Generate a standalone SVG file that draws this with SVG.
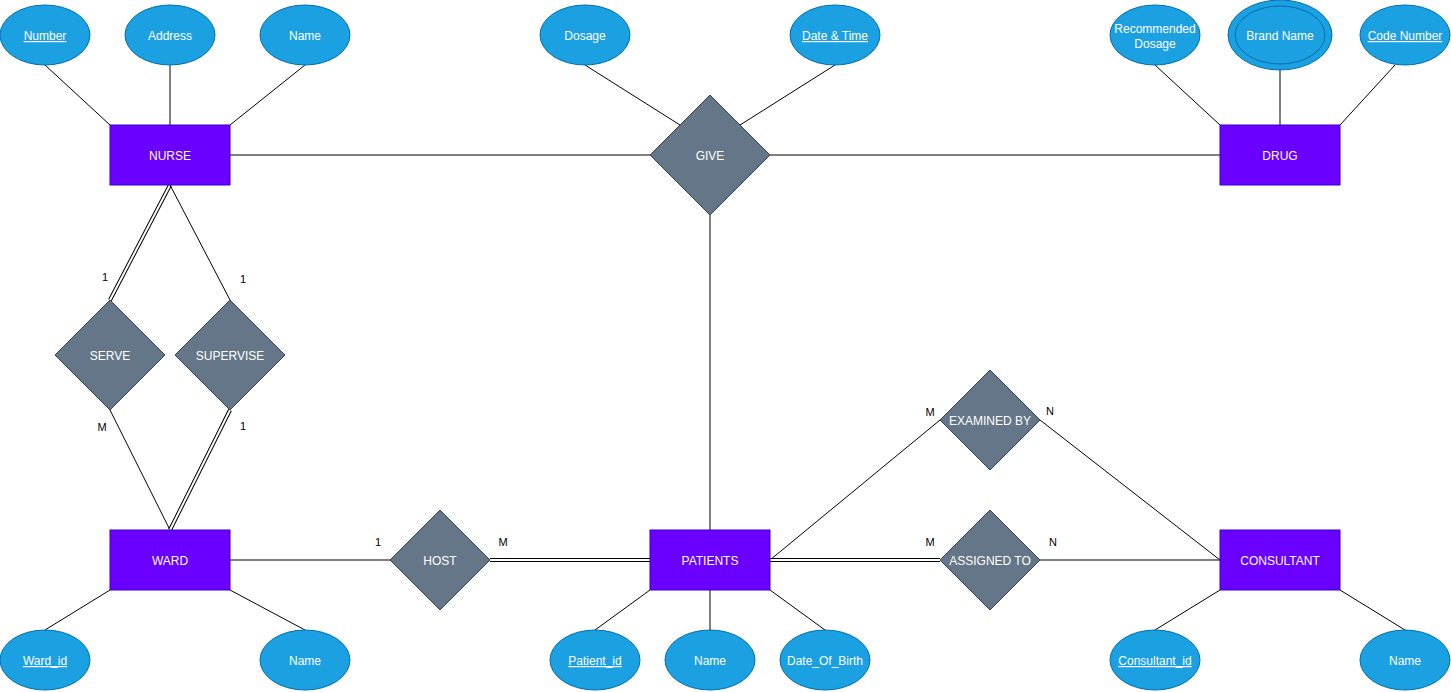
<svg xmlns="http://www.w3.org/2000/svg" width="1451" height="692" viewBox="0 0 1451 692">
<style>
.attr{fill:#1ba1e2;stroke:#006eaf;stroke-width:1}
.ent{fill:#6a00ff;stroke:#3700cc;stroke-width:1}
.rel{fill:#647687;stroke:#314354;stroke-width:1}
.t{font-family:"Liberation Sans",Arial,sans-serif;font-size:12px;fill:#ffffff;text-anchor:middle}
.u{text-decoration:underline}
.c{stroke:#000000;stroke-width:1;fill:none}
.d1{stroke:#000000;stroke-width:4;fill:none}
.d2{stroke:#ffffff;stroke-width:2;fill:none}
.lbl{font-family:"Liberation Sans",Arial,sans-serif;font-size:11px;fill:#000000;text-anchor:middle}
</style>
<rect width="1451" height="692" fill="#ffffff"/>
<g id="connectors">
<line class="c" x1="45" y1="65" x2="110" y2="125"/>
<line class="c" x1="170" y1="65" x2="170" y2="125"/>
<line class="c" x1="305" y1="65" x2="230" y2="125"/>
<line class="c" x1="230" y1="155" x2="650" y2="155"/>
<line class="c" x1="770" y1="155" x2="1220" y2="155"/>
<line class="c" x1="585" y1="65" x2="680" y2="125"/>
<line class="c" x1="835" y1="65" x2="740" y2="125"/>
<line class="c" x1="1155" y1="65" x2="1220" y2="125"/>
<line class="c" x1="1280" y1="70" x2="1280" y2="125"/>
<line class="c" x1="1395" y1="65" x2="1340" y2="125"/>
<line class="c" x1="710" y1="215" x2="710" y2="530"/>
<line class="d1" x1="170" y1="185" x2="110" y2="300"/>
<line class="d2" x1="170" y1="185" x2="110" y2="300"/>
<line class="c" x1="170" y1="185" x2="230" y2="300"/>
<line class="c" x1="110" y1="410" x2="170" y2="530"/>
<line class="d1" x1="230" y1="410" x2="170" y2="530"/>
<line class="d2" x1="230" y1="410" x2="170" y2="530"/>
<line class="c" x1="230" y1="560" x2="390" y2="560"/>
<line class="d1" x1="490" y1="560" x2="650" y2="560"/>
<line class="d2" x1="490" y1="560" x2="650" y2="560"/>
<line class="c" x1="770" y1="560" x2="940" y2="420"/>
<line class="d1" x1="770" y1="560" x2="940" y2="560"/>
<line class="d2" x1="770" y1="560" x2="940" y2="560"/>
<line class="c" x1="1040" y1="420" x2="1220" y2="560"/>
<line class="c" x1="1040" y1="560" x2="1220" y2="560"/>
<line class="c" x1="110" y1="590" x2="45" y2="630"/>
<line class="c" x1="230" y1="590" x2="305" y2="630"/>
<line class="c" x1="650" y1="590" x2="595" y2="630"/>
<line class="c" x1="710" y1="590" x2="710" y2="630"/>
<line class="c" x1="770" y1="590" x2="825" y2="630"/>
<line class="c" x1="1220" y1="590" x2="1155" y2="630"/>
<line class="c" x1="1340" y1="590" x2="1405" y2="630"/>
<text class="lbl" x="105" y="281">1</text>
<text class="lbl" x="243" y="283">1</text>
<text class="lbl" x="102" y="431">M</text>
<text class="lbl" x="243" y="430">1</text>
<text class="lbl" x="378" y="546">1</text>
<text class="lbl" x="503" y="546">M</text>
<text class="lbl" x="930" y="416">M</text>
<text class="lbl" x="1050" y="415">N</text>
<text class="lbl" x="930" y="546">M</text>
<text class="lbl" x="1053" y="546">N</text>
</g>
<g id="nurse"><rect class="ent" x="110" y="125" width="120" height="60"/><text class="t" x="170" y="160">NURSE</text></g>
<g id="drug"><rect class="ent" x="1220" y="125" width="120" height="60"/><text class="t" x="1280" y="160">DRUG</text></g>
<g id="ward"><rect class="ent" x="110" y="530" width="120" height="60"/><text class="t" x="170" y="565">WARD</text></g>
<g id="patients"><rect class="ent" x="650" y="530" width="120" height="60"/><text class="t" x="710" y="565">PATIENTS</text></g>
<g id="consultant"><rect class="ent" x="1220" y="530" width="120" height="60"/><text class="t" x="1280" y="565">CONSULTANT</text></g>
<g id="give"><polygon class="rel" points="710,95 770,155 710,215 650,155"/><text class="t" x="710" y="160">GIVE</text></g>
<g id="serve"><polygon class="rel" points="110,300 165,355 110,410 55,355"/><text class="t" x="110" y="360">SERVE</text></g>
<g id="supervise"><polygon class="rel" points="230,300 285,355 230,410 175,355"/><text class="t" x="230" y="360">SUPERVISE</text></g>
<g id="examined-by"><polygon class="rel" points="990,370 1040,420 990,470 940,420"/><text class="t" x="990" y="425">EXAMINED BY</text></g>
<g id="assigned-to"><polygon class="rel" points="990,510 1040,560 990,610 940,560"/><text class="t" x="990" y="565">ASSIGNED TO</text></g>
<g id="host"><polygon class="rel" points="440,510 490,560 440,610 390,560"/><text class="t" x="440" y="565">HOST</text></g>
<g id="nurse-number"><ellipse class="attr" cx="45" cy="35" rx="45" ry="30"/><text class="t u" x="45" y="40">Number</text></g>
<g id="nurse-address"><ellipse class="attr" cx="170" cy="35" rx="45" ry="30"/><text class="t" x="170" y="40">Address</text></g>
<g id="nurse-name"><ellipse class="attr" cx="305" cy="35" rx="45" ry="30"/><text class="t" x="305" y="40">Name</text></g>
<g id="give-dosage"><ellipse class="attr" cx="585" cy="35" rx="45" ry="30"/><text class="t" x="585" y="40">Dosage</text></g>
<g id="give-datetime"><ellipse class="attr" cx="835" cy="35" rx="45" ry="30"/><text class="t u" x="835" y="40">Date &amp; Time</text></g>
<g id="drug-recdosage"><ellipse class="attr" cx="1155" cy="35" rx="45" ry="30"/><text class="t" x="1155" y="33">Recommended</text><text class="t" x="1155" y="48">Dosage</text></g>
<g id="drug-brandname"><ellipse class="attr" cx="1280" cy="35" rx="52" ry="35"/><ellipse class="attr" cx="1280" cy="35" rx="45" ry="29"/><text class="t" x="1280" y="40">Brand Name</text></g>
<g id="drug-codenumber"><ellipse class="attr" cx="1405" cy="35" rx="45" ry="30"/><text class="t u" x="1405" y="40">Code Number</text></g>
<g id="ward-id"><ellipse class="attr" cx="45" cy="660" rx="45" ry="30"/><text class="t u" x="45" y="665">Ward_id</text></g>
<g id="ward-name"><ellipse class="attr" cx="305" cy="660" rx="45" ry="30"/><text class="t" x="305" y="665">Name</text></g>
<g id="patient-id"><ellipse class="attr" cx="595" cy="660" rx="45" ry="30"/><text class="t u" x="595" y="665">Patient_id</text></g>
<g id="patient-name"><ellipse class="attr" cx="710" cy="660" rx="45" ry="30"/><text class="t" x="710" y="665">Name</text></g>
<g id="patient-dob"><ellipse class="attr" cx="825" cy="660" rx="45" ry="30"/><text class="t" x="825" y="665">Date_Of_Birth</text></g>
<g id="consultant-id"><ellipse class="attr" cx="1155" cy="660" rx="45" ry="30"/><text class="t u" x="1155" y="665">Consultant_id</text></g>
<g id="consultant-name"><ellipse class="attr" cx="1405" cy="660" rx="45" ry="30"/><text class="t" x="1405" y="665">Name</text></g>
</svg>
